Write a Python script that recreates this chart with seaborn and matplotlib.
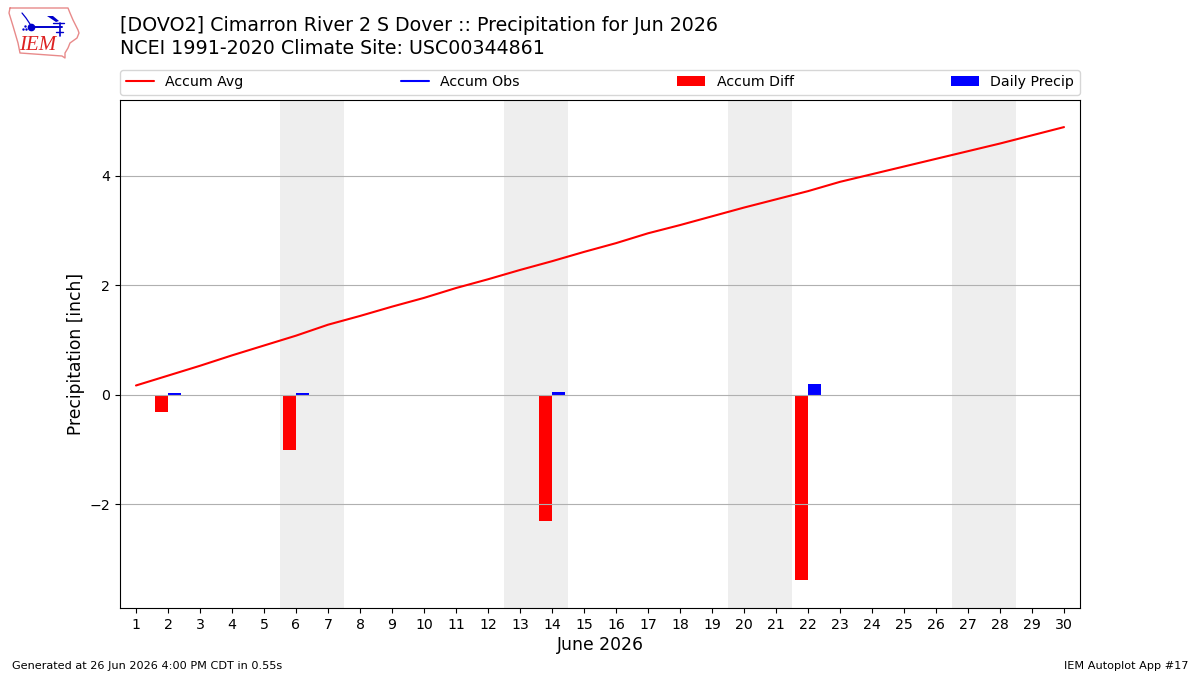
import matplotlib
matplotlib.use("Agg")
import matplotlib.pyplot as plt
from matplotlib.lines import Line2D
from matplotlib.patches import Patch, Polygon
import pandas as pd
import seaborn as sns

days = list(range(1, 31))
accum_avg = [0.17, 0.35, 0.53, 0.72, 0.90, 1.08, 1.28, 1.44, 1.61, 1.77,
             1.95, 2.11, 2.28, 2.44, 2.61, 2.77, 2.95, 3.10, 3.26, 3.42,
             3.57, 3.72, 3.89, 4.03, 4.17, 4.31, 4.45, 4.59, 4.74, 4.89]
accum_diff = {2: -0.31, 6: -1.01, 14: -2.30, 22: -3.38}
daily_precip = {2: 0.04, 6: 0.04, 14: 0.05, 22: 0.20}
weekends = [(6, 7), (13, 14), (20, 21), (27, 28)]
y_ticks = [-2, 0, 2, 4]

title_text = ("[DOVO2] Cimarron River 2 S Dover :: Precipitation for Jun 2026\n"
              "NCEI 1991-2020 Climate Site: USC00344861")

sns.set_theme(style="ticks", rc={"axes.grid": False})
plt.rcParams["font.family"] = ["DejaVu Sans"]

fig = plt.figure(figsize=(12, 6.75), dpi=100)
ax = fig.add_axes([0.1, 67 / 675, 0.8, 508 / 675])

# Weekend shading
for start, end in weekends:
    ax.axvspan(start - 0.5, end + 0.5, color="#EEEEEE", lw=0, zorder=0)

bars = pd.DataFrame({
    "day": days * 2,
    "value": [accum_diff.get(d, 0.0) for d in days]
             + [daily_precip.get(d, 0.0) for d in days],
    "series": ["Accum Diff"] * 30 + ["Daily Precip"] * 30,
})
sns.barplot(data=bars, x="day", y="value", hue="series", native_scale=True,
            palette={"Accum Diff": "#FF0000", "Daily Precip": "#0000FF"},
            saturation=1, width=0.8, gap=0, linewidth=0, legend=False, ax=ax,
            errorbar=None)

avg_frame = pd.DataFrame({"day": days, "avg": accum_avg})
sns.lineplot(data=avg_frame, x="day", y="avg", color="#FF0000", lw=1.5,
             errorbar=None, legend=False, ax=ax)

ax.set_xlim(0.5, 30.5)
ax.set_ylim(-3.895, 5.385)
ax.set_xticks(days)
ax.set_xticklabels([str(d) for d in days])
ax.set_yticks(y_ticks)
ax.yaxis.grid(True, color="#B0B0B0", lw=0.8)
ax.xaxis.grid(False)
ax.set_axisbelow("line")
ax.tick_params(labelsize=10.2, length=3.5, width=0.8, colors="black", pad=3.5)
for spine in ax.spines.values():
    spine.set_visible(True)
    spine.set_color("black")
    spine.set_linewidth(0.8)
ax.set_xlabel("June 2026", fontsize=12.4, color="black", labelpad=3)
ax.set_ylabel("Precipitation [inch]", fontsize=12.3, color="black", labelpad=3.5)

handles = [
    Line2D([], [], color="#FF0000", lw=1.5, label="Accum Avg"),
    Line2D([], [], color="#0000FF", lw=1.5, label="Accum Obs"),
    Patch(color="#FF0000", lw=0, label="Accum Diff"),
    Patch(color="#0000FF", lw=0, label="Daily Precip"),
]
ax.legend(handles=handles, ncol=4, mode="expand", loc="lower left",
          bbox_to_anchor=(0, 1.0098, 1, 0.05), borderaxespad=0, fontsize=10.2,
          frameon=True, fancybox=True, framealpha=0.8, edgecolor="#CCCCCC",
          labelcolor="black")

fig.text(0.1, 0.914, title_text, fontsize=13.65, color="black", ha="left",
         va="bottom", linespacing=1.28)
fig.text(0.01, 0.0066, "Generated at 26 Jun 2026 4:00 PM CDT in 0.55s",
         fontsize=8.12, color="black", ha="left", va="bottom")
fig.text(0.99, 0.0066, "IEM Autoplot App #17", fontsize=8.1, color="black",
         ha="right", va="bottom")

# Station logo: state outline, weather-vane glyph and lettering
logo = fig.add_axes([0, 1 - 60 / 675, 85 / 1200, 60 / 675])
logo.set_xlim(0, 85)
logo.set_ylim(60, 0)
logo.axis("off")
outline_x = [10, 68, 70, 73, 78, 79, 77, 70, 68, 65, 65, 62, 20, 18, 13, 9, 10]
outline_y = [8, 8, 13, 20, 30, 33, 38, 43, 48, 53, 58, 56, 53, 43, 26, 13, 8]
logo.plot(outline_x, outline_y, color="#E88A8A", lw=1)
logo.plot([31, 62], [27, 27], color="#0000CC", lw=1.4)
logo.plot([31], [27], "o", color="#0000CC", ms=4.5)
logo.add_patch(Polygon([[47, 16], [53, 16], [59, 21], [56, 22]],
                       color="#0000CC", lw=0))
logo.plot([53, 64], [23, 23], color="#0000CC", lw=1)
logo.plot([60, 60], [23, 36], color="#0000CC", lw=1.2)
logo.plot([56, 63], [32, 32], color="#0000CC", lw=1)
logo.plot([22, 26, 30], [13, 18, 24], color="#0000CC", lw=0.9)
logo.plot([23, 26, 25], [29, 29, 26], ".", color="#0000CC", ms=1.5)
logo.text(38, 45, "IEM", color="#DD2222", fontsize=15, style="italic",
          family="Liberation Serif", ha="center", va="center")

fig.savefig("out.png", dpi=100)
